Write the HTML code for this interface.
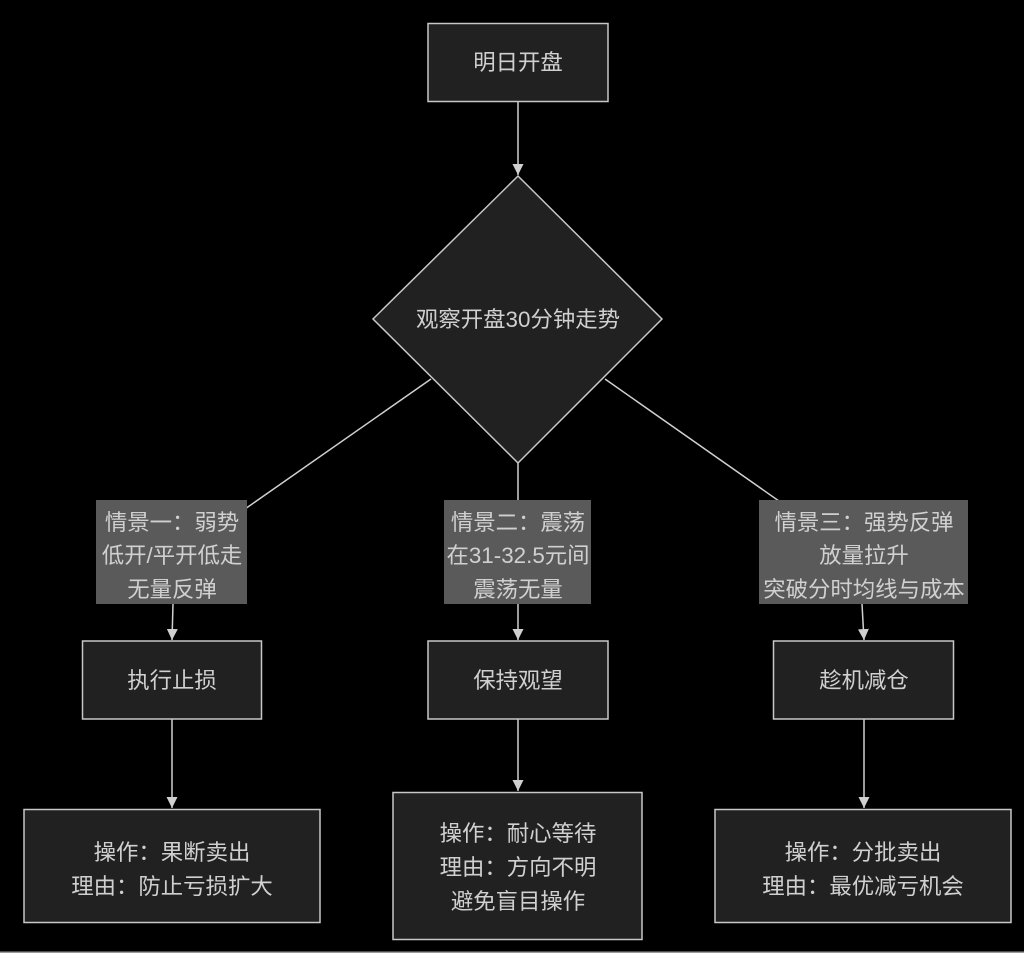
<!DOCTYPE html>
<html><head><meta charset="utf-8"><style>
html,body{margin:0;padding:0;background:#000;}
svg{display:block;}
text{font-family:"Liberation Sans","Noto Sans CJK SC",sans-serif;font-size:22.4px;fill:#d0d0d0;text-anchor:middle;}
</style></head><body>
<svg width="1024" height="953" viewBox="0 0 1024 953" xmlns="http://www.w3.org/2000/svg">
<rect x="0" y="0" width="1024" height="953" fill="#000"/>
<defs>
<marker id="ah" viewBox="0 0 10 10" refX="10" refY="5" markerWidth="11" markerHeight="11" markerUnits="userSpaceOnUse" orient="auto">
<path d="M0,0 L10,5 L0,10 z" fill="#d0d0d0"/>
</marker>
</defs>
<g stroke="#d0d0d0" stroke-width="1.5" fill="none">
<line x1="518" y1="102" x2="518" y2="175" marker-end="url(#ah)"/>
<line x1="431" y1="379" x2="172" y2="560"/>
<line x1="605" y1="379" x2="863" y2="560"/>
<line x1="518" y1="463" x2="518" y2="540"/>
<line x1="173" y1="604" x2="172" y2="640" marker-end="url(#ah)"/>
<line x1="518" y1="604" x2="518" y2="640" marker-end="url(#ah)"/>
<line x1="862" y1="604" x2="864" y2="640" marker-end="url(#ah)"/>
<line x1="172" y1="719" x2="172" y2="808" marker-end="url(#ah)"/>
<line x1="518" y1="719" x2="518" y2="791" marker-end="url(#ah)"/>
<line x1="864" y1="719" x2="864" y2="808" marker-end="url(#ah)"/>
</g>
<g fill="#212121" stroke="#c8c8c8" stroke-width="1.5">
<rect x="428" y="23.5" width="180" height="78"/>
<polygon points="518,176 662,319 518,463 373,319"/>
<rect x="82.5" y="641" width="179" height="78"/>
<rect x="428" y="641" width="180" height="78"/>
<rect x="773.5" y="641" width="180" height="78"/>
<rect x="24" y="809.5" width="296" height="113"/>
<rect x="393" y="792.5" width="249" height="147"/>
<rect x="715" y="809.5" width="296" height="113"/>
</g>
<g fill="#5a5a5a">
<rect x="96" y="500" width="151" height="104"/>
<rect x="444" y="500" width="147" height="104"/>
<rect x="759" y="500" width="209" height="104"/>
</g>
<rect x="0" y="951.5" width="1024" height="1.5" fill="#9a9a9a"/>
<text x="518" y="70">明日开盘</text>
<text x="518" y="327">观察开盘30分钟走势</text>
<text x="172" y="530">情景一：弱势</text>
<text x="172" y="563">低开/平开低走</text>
<text x="172" y="597">无量反弹</text>
<text x="518" y="530">情景二：震荡</text>
<text x="518" y="563">在31-32.5元间</text>
<text x="518" y="597">震荡无量</text>
<text x="864" y="530">情景三：强势反弹</text>
<text x="864" y="563">放量拉升</text>
<text x="864" y="597">突破分时均线与成本</text>
<text x="172" y="688">执行止损</text>
<text x="518" y="688">保持观望</text>
<text x="864" y="688">趁机减仓</text>
<text x="172" y="860">操作：果断卖出</text>
<text x="172" y="894">理由：防止亏损扩大</text>
<text x="518" y="841">操作：耐心等待</text>
<text x="518" y="875">理由：方向不明</text>
<text x="518" y="909">避免盲目操作</text>
<text x="863" y="860">操作：分批卖出</text>
<text x="863" y="894">理由：最优减亏机会</text>
</svg>
</body></html>
